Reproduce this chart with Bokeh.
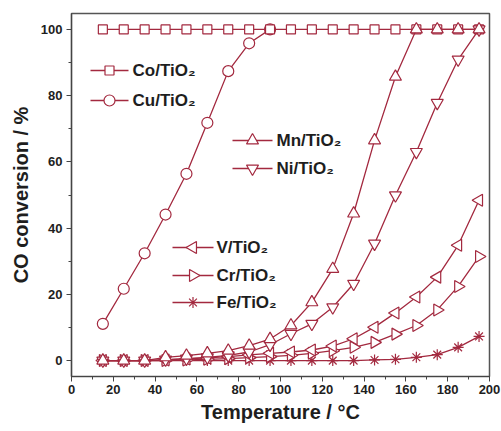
from bokeh.plotting import figure
from bokeh.models import Range1d, SingleIntervalTicker
from bokeh.core.properties import value
from bokeh.embed import file_html
from bokeh.resources import INLINE

# Reaction temperature (°C) at each measurement
temps = [15, 25, 35, 45, 55, 65, 75, 85, 95, 105, 115, 125, 135, 145, 155, 165, 175, 185, 195]
cu_temps = [15, 25, 35, 45, 55, 65, 75, 85, 95]

# CO conversion (%) for each catalyst
co_conv = [100, 100, 100, 100, 100, 100, 100, 100, 100, 100, 100, 100, 100, 100, 100, 100, 100, 100, 100]
cu_conv = [11.1, 21.7, 32.4, 44.1, 56.4, 71.8, 87.4, 95.8, 100]
mn_conv = [0, 0, 0, 1.0, 1.5, 2.2, 3.0, 4.5, 6.5, 10.6, 17.6, 27.7, 44.4, 66.5, 85.7, 100, 100, 100, 100]
ni_conv = [0, 0, 0, 0.3, 0.6, 1.0, 1.6, 2.6, 4.8, 8.1, 11.1, 16.1, 23.2, 35.3, 49.9, 63.0, 77.8, 90.9, 100]
v_conv = [0, 0, 0, 0.2, 0.5, 0.8, 1.2, 1.7, 2.2, 2.6, 3.2, 4.4, 6.6, 10.1, 14.4, 19.2, 25.2, 34.8, 48.4]
cr_conv = [0, 0, 0, 0, 0.2, 0.4, 0.6, 0.9, 1.2, 1.6, 2.2, 3.0, 4.0, 5.5, 8.0, 10.6, 15.3, 22.4, 31.4]
fe_conv = [0, 0, 0, 0, 0, 0, 0, 0, 0, 0, 0, 0, 0, 0.2, 0.4, 1.0, 1.8, 4.0, 7.3]

COLOR = "#a3293f"
FONT = "Liberation Sans"
TEXT = "#1e1e1e"

# Frame geometry (pixels) and axis ranges
W, H = 501, 431
LEFT, RIGHT, TOP, BOTTOM = 71, 12, 13, 55
X0, X1 = 0, 200
Y0, Y1 = -4.8, 104.8
FW = W - LEFT - RIGHT
FH = H - TOP - BOTTOM

p = figure(width=W, height=H, output_backend="svg", toolbar_location=None,
           x_range=Range1d(X0, X1), y_range=Range1d(Y0, Y1),
           min_border_left=LEFT, min_border_right=RIGHT,
           min_border_top=TOP, min_border_bottom=BOTTOM)
p.xgrid.visible = False
p.ygrid.visible = False
p.outline_line_color = "#555555"
p.outline_line_width = 1.5
p.background_fill_color = "white"
p.border_fill_color = "white"

p.xaxis.ticker = SingleIntervalTicker(interval=20, num_minor_ticks=2)
p.yaxis.ticker = SingleIntervalTicker(interval=20, num_minor_ticks=2)
for ax in (p.xaxis[0], p.yaxis[0]):
    ax.axis_line_color = "#444444"
    ax.axis_line_width = 1.2
    ax.major_tick_line_color = "#444444"
    ax.minor_tick_line_color = "#444444"
    ax.major_tick_in = 0
    ax.major_tick_out = 5
    ax.minor_tick_in = 0
    ax.minor_tick_out = 3
    ax.major_label_text_font = FONT
    ax.major_label_text_font_style = "bold"
    ax.major_label_text_font_size = "13px"
    ax.major_label_text_color = TEXT
    ax.axis_label_text_font = FONT
    ax.axis_label_text_font_style = "bold"
    ax.axis_label_text_font_size = "20px"
    ax.axis_label_text_color = TEXT
p.xaxis.major_label_standoff = 3
p.yaxis.major_label_standoff = 4
p.xaxis.axis_label = "Temperature / °C"
p.yaxis.axis_label = "CO conversion / %"
p.xaxis.axis_label_standoff = 4
p.yaxis.axis_label_standoff = 6


def marker_kw(marker, size, angle):
    return dict(marker=marker, size=size, angle=angle, line_color=COLOR,
                line_width=1.2, fill_color="white")


def series(x, y, marker, size, angle=0.0):
    p.line(x, y, line_color=COLOR, line_width=1.3)
    p.scatter(x, y, **marker_kw(marker, size, angle))


CU = ("circle", 11, 0.0)
CO = ("square", 9, 0.0)
FE = ("asterisk", 11, 0.0)
CR = ("triangle", 12, -1.5708)
V = ("triangle", 12, 1.5708)
NI = ("inverted_triangle", 12, 0.0)
MN = ("triangle", 12, 0.0)

series(cu_temps, cu_conv, *CU)
series(temps, co_conv, *CO)
series(temps, fe_conv, *FE)
series(temps, cr_conv, *CR)
series(temps, v_conv, *V)
series(temps, ni_conv, *NI)
series(temps, mn_conv, *MN)


# Legend entries placed in screen pixels, converted to data space
def sx(px):
    return X0 + (px - LEFT) * (X1 - X0) / FW


def sy(py):
    return Y1 - (py - TOP) * (Y1 - Y0) / FH


def legend_block(entries, x_line0, x_line1, x_text, rows):
    for (label, style), row in zip(entries, rows):
        marker, size, angle = style
        yv = sy(row)
        p.line([sx(x_line0), sx(x_line1)], [yv, yv], line_color=COLOR, line_width=1.3)
        p.scatter([sx((x_line0 + x_line1) / 2)], [yv], **marker_kw(marker, size, angle))
        p.text([sx(x_text)], [yv], text=[label], text_font=value(FONT),
               text_font_style="bold", text_font_size="17px", text_color=TEXT,
               text_align="left", text_baseline="middle")


legend_block([("Co/TiO₂", CO), ("Cu/TiO₂", CU)], 90, 128, 132, [70, 100])
legend_block([("Mn/TiO₂", MN), ("Ni/TiO₂", NI)], 232, 272, 276, [140, 168])
legend_block([("V/TiO₂", V), ("Cr/TiO₂", CR), ("Fe/TiO₂", FE)], 172, 213, 216, [247, 275, 302])

open("out.html", "w").write(file_html(p, INLINE))
